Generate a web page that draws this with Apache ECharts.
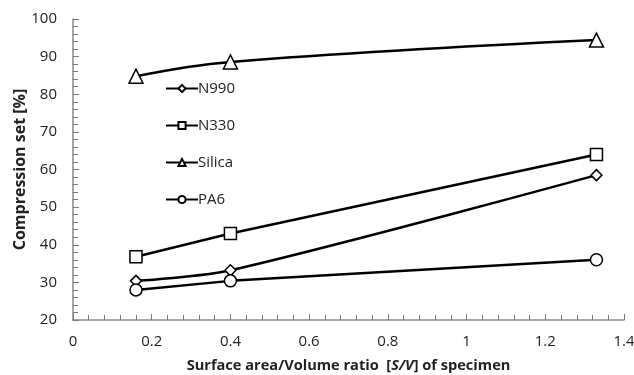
<!DOCTYPE html>
<html><head><meta charset="utf-8">
<script src="https://cdn.jsdelivr.net/npm/echarts@6/dist/echarts.min.js"></script>
<style>html,body{margin:0;padding:0;background:#fff}#c{width:634px;height:375px}</style>
</head><body><div id="c"></div>
<script>
const xValues = [0.16, 0.4, 1.33];
const seriesNames = ['N990', 'N330', 'Silica', 'PA6'];
const n990 = [30.4, 33.2, 58.5];
const n330 = [36.8, 43.0, 64.0];
const silica = [84.8, 88.6, 94.4];
const pa6 = [28.0, 30.4, 36.0];
const yTicks = [20, 100, 10];
const xTicks = [0, 1.4, 0.2];

const chart = echarts.init(document.getElementById('c'));
const font = '"Open Sans", "Liberation Sans", sans-serif';
function mk(name, vals, symbol, size, smooth) {
  return {
    name: name, type: 'line', data: xValues.map((x, i) => [x, vals[i]]),
    symbol: symbol, symbolSize: size, smooth: smooth,
    lineStyle: { color: '#000', width: 2.5 },
    itemStyle: { color: '#fff', borderColor: '#000', borderWidth: 1.5 },
    emphasis: { disabled: true }
  };
}
chart.setOption({
  animation: false,
  backgroundColor: '#fff',
  grid: { left: 73, right: 10, top: 19, bottom: 55, outerBoundsMode: 'none', containLabel: false },
  legend: {
    orient: 'vertical', left: 160, top: 76, itemGap: 22, itemWidth: 32, itemHeight: 9,
    textStyle: { fontFamily: font, fontSize: 15, color: '#222', padding: [0,0,0,-5] },
    data: seriesNames
  },
  xAxis: {
    type: 'value', min: xTicks[0], max: xTicks[1], interval: xTicks[2],
    name: '{b|Surface area/Volume ratio  [}{bi|S/V}{b|] of specimen}',
    nameLocation: 'middle', nameGap: 38, nameMoveOverlap: false,
    nameTextStyle: { rich: {
      b: { fontFamily: font, fontSize: 14.6, fontWeight: 'bold', color: '#222' },
      bi: { fontFamily: font, fontSize: 14.6, fontWeight: 'bold', fontStyle: 'italic', color: '#222' } } },
    axisLine: { lineStyle: { color: '#888', width: 1.5 } },
    axisTick: { inside: true, length: 6, lineStyle: { color: '#777' } },
    minorTick: { show: true, splitNumber: 5, length: 5, lineStyle: { color: '#777' } },
    splitLine: { show: false },
    axisLabel: { fontFamily: font, fontSize: 15, color: '#222', margin: 14 }
  },
  yAxis: {
    type: 'value', min: yTicks[0], max: yTicks[1], interval: yTicks[2],
    name: 'Compression set [%]', nameLocation: 'middle', nameGap: 45, nameMoveOverlap: false,
    nameTextStyle: { fontFamily: font, fontSize: 16, fontWeight: 'bold', color: '#222' },
    axisLine: { show: true, lineStyle: { color: '#888', width: 1.5 } },
    axisTick: { show: true, inside: true, length: 6, lineStyle: { color: '#777' } },
    minorTick: { show: true, splitNumber: 5, length: 5, lineStyle: { color: '#777' } },
    splitLine: { show: false },
    axisLabel: { fontFamily: font, fontSize: 15, color: '#222', margin: 16 }
  },
  series: [
    mk('N990', n990, 'diamond', 11, 0.3),
    mk('N330', n330, 'rect', 12, false),
    mk('Silica', silica, 'triangle', 14, 0.4),
    mk('PA6', pa6, 'circle', 12, false)
  ]
});
</script></body></html>
